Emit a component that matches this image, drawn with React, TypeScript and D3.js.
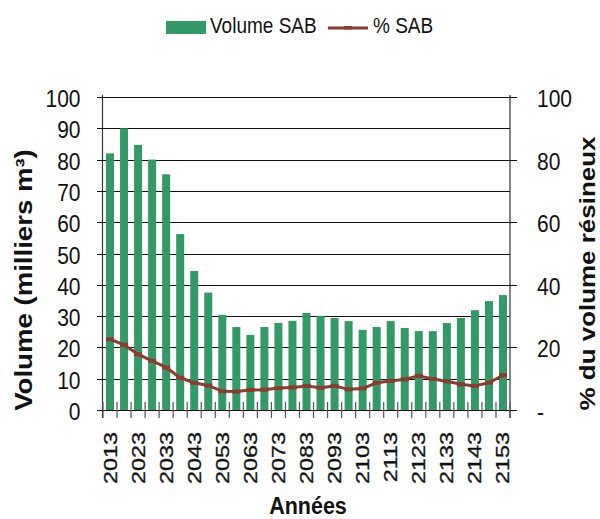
import { scaleBand, scaleLinear, line, range } from "d3";

// years, one bar every 5 years
const years = range(2013, 2154, 5);

// Volume SAB (milliers m³), left axis
const volumeSab = [
  82, 90, 84.7, 80, 75.3, 56.2, 44.4, 37.5, 30.4, 26.5,
  24, 26.5, 27.8, 28.5, 31, 30.1, 29.4, 28.4, 25.6, 26.5,
  28.4, 26.2, 25.2, 25.2, 27.8, 29.4, 31.9, 34.8, 36.7,
];

// % SAB du volume résineux, right axis
const pctSab = [
  22.6, 20.8, 17.8, 15.7, 13.6, 10.3, 8.7, 7.8, 6.0, 5.9,
  6.4, 6.5, 7.0, 7.2, 7.7, 7.1, 7.7, 6.6, 6.9, 8.7,
  9.3, 9.8, 10.9, 9.9, 9.2, 8.2, 7.7, 8.7, 11.1,
];

const leftTicks = [0, 10, 20, 30, 40, 50, 60, 70, 80, 90, 100];
const rightTicks = [0, 20, 40, 60, 80, 100];
const rightTickLabels = ["-", "20", "40", "60", "80", "100"];

const GREEN = "#339966";
const BROWN = "#8c3b2c";
const FONT = "'Liberation Sans', Arial, sans-serif";

export default function App() {
  const left = 103;
  const right = 510;
  const top = 97;
  const bottom = 410;

  const x = scaleBand<number>()
    .domain(years)
    .range([left, right])
    .paddingInner(0.43)
    .paddingOuter(0.215);
  const y = scaleLinear().domain([0, 100]).range([bottom, top]);
  const y2 = scaleLinear().domain([0, 100]).range([bottom, top]);

  const cx = (d: number) => (x(d) as number) + x.bandwidth() / 2;
  const step = x.step();

  const pctLine = line<number>()
    .x((_, i) => cx(years[i]))
    .y((d) => y2(d));

  const boundaries = range(years.length + 1).map((i) => left + i * step);

  return (
    <svg
      width={600}
      height={519}
      style={{ position: "absolute", left: 0, top: 0, display: "block" }}
      fontFamily={FONT}
    >
      <rect width={600} height={519} fill="#fff" />

      {/* legend */}
      <rect x={166} y={21} width={40} height={13} fill={GREEN} />
      <g transform="translate(210,33) scale(1,1.15)">
        <text fontSize={19} fill="#111">Volume SAB</text>
      </g>
      <line x1={328} x2={368} y1={28} y2={28} stroke={BROWN} strokeWidth={3} />
      <rect x={344} y={26} width={8} height={3.5} fill={BROWN} />
      <g transform="translate(373,33) scale(1,1.15)">
        <text fontSize={19} fill="#111">% SAB</text>
      </g>

      {/* gridlines */}
      {leftTicks.map((t) => (
        <line
          key={"g" + t}
          x1={left}
          x2={right}
          y1={Math.round(y(t)) + 0.5}
          y2={Math.round(y(t)) + 0.5}
          stroke="#111"
          strokeWidth={1}
        />
      ))}

      {/* bars */}
      {years.map((yr, i) => (
        <rect
          key={"b" + yr}
          x={x(yr)}
          y={y(volumeSab[i])}
          width={x.bandwidth()}
          height={bottom - y(volumeSab[i])}
          fill={GREEN}
        />
      ))}

      {/* line */}
      <path
        d={pctLine(pctSab) || ""}
        fill="none"
        stroke={BROWN}
        strokeWidth={3}
        strokeLinejoin="round"
      />
      {pctSab.map((v, i) => (
        <rect
          key={"m" + i}
          x={cx(years[i]) - 4}
          y={y2(v) - 2}
          width={8}
          height={4}
          fill={BROWN}
        />
      ))}

      {/* left axis */}
      <line x1={left - 0.5} x2={left - 0.5} y1={95} y2={418} stroke="#333" strokeWidth={1.2} />
      {leftTicks.map((t) => (
        <g key={"l" + t}>
          <line
            x1={97}
            x2={left}
            y1={Math.round(y(t)) + 0.5}
            y2={Math.round(y(t)) + 0.5}
            stroke="#111"
          />
          <g transform={`translate(80.5,${y(t) + 10}) scale(1,1.17)`}>
            <text fontSize={21} textAnchor="end" fill="#111">
              {t}
            </text>
          </g>
        </g>
      ))}

      {/* right axis */}
      <line x1={right} x2={right} y1={95} y2={418} stroke="#333" strokeWidth={1.2} />
      {rightTicks.map((t, i) => (
        <g key={"r" + t}>
          <line
            x1={right}
            x2={517}
            y1={Math.round(y2(t)) + 0.5}
            y2={Math.round(y2(t)) + 0.5}
            stroke="#111"
          />
          <g transform={`translate(537,${y2(t) + 10}) scale(1,1.17)`}>
            <text fontSize={21} fill="#111">
              {rightTickLabels[i]}
            </text>
          </g>
        </g>
      ))}

      {/* bottom axis ticks */}
      <line x1={97} x2={517} y1={410.5} y2={410.5} stroke="#111" />
      {boundaries.map((bx, i) => (
        <line
          key={"t" + i}
          x1={bx}
          x2={bx}
          y1={402}
          y2={418}
          stroke="#555"
          strokeWidth={1.2}
        />
      ))}
      {years
        .filter((_, i) => i % 2 === 0)
        .map((yr) => (
          <g key={"y" + yr} transform={`translate(${cx(yr) + 6.5},432) rotate(-90) scale(1.3,1)`}>
            <text fontSize={18} textAnchor="end" fill="#111" stroke="#111" strokeWidth={0.3}>
              {yr}
            </text>
          </g>
        ))}

      {/* axis titles */}
      <g transform="translate(308,514) scale(1,1.15)">
        <text fontSize={21.5} fontWeight="bold" textAnchor="middle" fill="#111">
          Années
        </text>
      </g>
      <g transform="translate(31.5,280) rotate(-90) scale(1.2,1)">
        <text fontSize={23} fontWeight="bold" textAnchor="middle" fill="#111">
          Volume (milliers m³)
        </text>
      </g>
      <g transform="translate(595,273.5) rotate(-90) scale(1.18,1)">
        <text fontSize={22} fontWeight="bold" textAnchor="middle" fill="#111">
          % du volume résineux
        </text>
      </g>
    </svg>
  );
}
